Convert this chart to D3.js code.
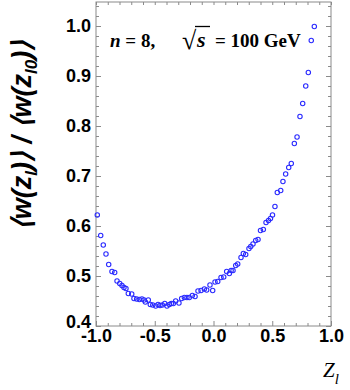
<!DOCTYPE html>
<html><head><meta charset="utf-8">
<script src="https://cdn.jsdelivr.net/npm/d3@7"></script>
<style>body{margin:0;background:#fff} svg{display:block}</style>
</head><body><svg id="c" width="350" height="390"></svg>
<script>
// ---- data ----
const zl = [-0.989,-0.960,-0.938,-0.915,-0.892,-0.864,-0.841,-0.821,-0.798,-0.779,-0.762,-0.745,-0.725,-0.696,-0.677,-0.654,-0.631,-0.609,-0.591,-0.580,-0.555,-0.538,-0.517,-0.492,-0.472,-0.455,-0.436,-0.415,-0.396,-0.376,-0.359,-0.342,-0.322,-0.294,-0.271,-0.248,-0.226,-0.206,-0.180,-0.157,-0.132,-0.106,-0.078,-0.058,-0.030,-0.007,0.013,0.036,0.064,0.087,0.112,0.135,0.150,0.166,0.189,0.206,0.234,0.254,0.274,0.302,0.317,0.336,0.359,0.379,0.400,0.424,0.447,0.468,0.485,0.502,0.523,0.543,0.572,0.591,0.614,0.640,0.662,0.688,0.711,0.736,0.759,0.785,0.807,0.832,0.858];
const ratio = [0.622,0.581,0.562,0.544,0.523,0.509,0.507,0.490,0.485,0.481,0.477,0.475,0.465,0.464,0.455,0.454,0.453,0.454,0.452,0.448,0.452,0.443,0.442,0.440,0.443,0.441,0.442,0.445,0.440,0.443,0.445,0.445,0.450,0.446,0.455,0.457,0.457,0.457,0.461,0.459,0.470,0.471,0.474,0.472,0.482,0.471,0.488,0.489,0.497,0.498,0.509,0.505,0.511,0.511,0.521,0.524,0.537,0.545,0.543,0.555,0.559,0.564,0.571,0.573,0.591,0.593,0.607,0.611,0.615,0.622,0.639,0.667,0.671,0.689,0.704,0.717,0.725,0.765,0.778,0.819,0.845,0.880,0.907,0.971,0.999];
const xMajorTicks = [-1.0,-0.5,0.0,0.5,1.0];
const xMinorTicks = [-0.9,-0.8,-0.7,-0.6,-0.4,-0.3,-0.2,-0.1,0.1,0.2,0.3,0.4,0.6,0.7,0.8,0.9];
const yMajorTicks = [0.4,0.5,0.6,0.7,0.8,0.9,1.0];
const yMinorTicks = [0.42,0.44,0.46,0.48,0.52,0.54,0.56,0.58,0.62,0.64,0.66,0.68,0.72,0.74,0.76,0.78,0.82,0.84,0.86,0.88,0.92,0.94,0.96,0.98,1.02,1.04];
const xDomain = [-1.0, 1.0];
const yDomain = [0.4, 1.048];

// ---- layout ----
const L = 96, R = 331, T = 2, B = 326;
const svg = d3.select("#c");
const x = d3.scaleLinear().domain(xDomain).range([L, R]);
const y = d3.scaleLinear().domain(yDomain).range([B, T]);
const axisColor = "#8a8a8a";
const fmt = d => d.toFixed(1);

function styleAxis(g){
  g.select(".domain").remove();
  g.selectAll(".tick line").attr("stroke", axisColor).attr("stroke-width", 1);
  g.selectAll(".tick text").attr("fill", "#000")
    .style("font-family", "'Liberation Sans', Arial, sans-serif")
    .style("font-weight", "bold").style("font-size", "18px");
}
// bottom
svg.append("g").attr("transform", `translate(0,${B})`)
  .call(d3.axisBottom(x).tickValues(xMajorTicks).tickSize(-5).tickPadding(3).tickFormat(fmt)).call(styleAxis);
svg.append("g").attr("transform", `translate(0,${B})`)
  .call(d3.axisBottom(x).tickValues(xMinorTicks).tickSize(-3).tickFormat("")).call(styleAxis);
// top
svg.append("g").attr("transform", `translate(0,${T})`)
  .call(d3.axisTop(x).tickValues(xMajorTicks.concat(xMinorTicks)).tickSize(-3).tickFormat("")).call(styleAxis);
// left
const yAxisG = svg.append("g").attr("transform", `translate(${L},0)`)
  .call(d3.axisLeft(y).tickValues(yMajorTicks).tickSize(-5).tickPadding(5).tickFormat(fmt)).call(styleAxis);
// lowest label sits a little above its tick, as in the reference
yAxisG.selectAll(".tick text").filter(d => d === yMajorTicks[0]).attr("dy", "0.1em");
svg.append("g").attr("transform", `translate(${L},0)`)
  .call(d3.axisLeft(y).tickValues(yMinorTicks).tickSize(-3).tickFormat("")).call(styleAxis);
// right
svg.append("g").attr("transform", `translate(${R},0)`)
  .call(d3.axisRight(y).tickValues(yMajorTicks).tickSize(-5).tickFormat("")).call(styleAxis);
svg.append("g").attr("transform", `translate(${R},0)`)
  .call(d3.axisRight(y).tickValues(yMinorTicks).tickSize(-3).tickFormat("")).call(styleAxis);

// frame
svg.append("rect").attr("x", L).attr("y", T).attr("width", R - L).attr("height", B - T)
  .attr("fill", "none").attr("stroke", axisColor).attr("stroke-width", 1);

// points
const pts = zl.map((v, i) => ({z: v, r: ratio[i]}));
svg.append("g").selectAll("circle").data(pts).join("circle")
  .attr("cx", d => x(d.z)).attr("cy", d => y(d.r)).attr("r", 2.2)
  .attr("fill", "none").attr("stroke", "#2a2aff").attr("stroke-width", 1.1);

// title annotation
const serif = "'Liberation Serif', 'Times New Roman', serif";
const t1 = svg.append("text").attr("x", 110).attr("y", 47)
  .style("font-family", serif).style("font-weight", "bold").style("font-size", "19px");
t1.append("tspan").style("font-style", "italic").text("n");
t1.append("tspan").text(" = 8,");
svg.append("text").attr("x", 182).attr("y", 49)
  .style("font-family", serif).style("font-size", "26px").text("√");
svg.append("line").attr("x1", 195).attr("x2", 210).attr("y1", 26.5).attr("y2", 26.5)
  .attr("stroke", "#000").attr("stroke-width", 1.3);
svg.append("text").attr("x", 197).attr("y", 47)
  .style("font-family", serif).style("font-weight", "bold").style("font-style", "italic").style("font-size", "22px").text("s");
svg.append("text").attr("x", 215).attr("y", 47)
  .style("font-family", serif).style("font-weight", "bold").style("font-size", "19px").text("= 100 GeV");

// x label
const xl = svg.append("text").attr("x", 323).attr("y", 377)
  .style("font-family", serif).style("font-style", "italic").style("font-size", "21px");
xl.append("tspan").text("Z");
xl.append("tspan").attr("dy", 7).style("font-size", "15px").text("l");

// y label
const yl = svg.append("text").attr("transform", "translate(31,135) rotate(-90)")
  .attr("text-anchor", "middle")
  .style("font-family", "'Liberation Sans', Arial, sans-serif").style("font-style", "italic")
  .style("font-weight", "bold").style("font-size", "27px");
yl.append("tspan").text("⟨w(z");
yl.append("tspan").attr("dy", 6).style("font-size", "17px").text("l");
yl.append("tspan").attr("dy", -6).text(")⟩ / ⟨w(z");
yl.append("tspan").attr("dy", 6).style("font-size", "17px").text("l0");
yl.append("tspan").attr("dy", -6).text(")⟩");
</script></body></html>
